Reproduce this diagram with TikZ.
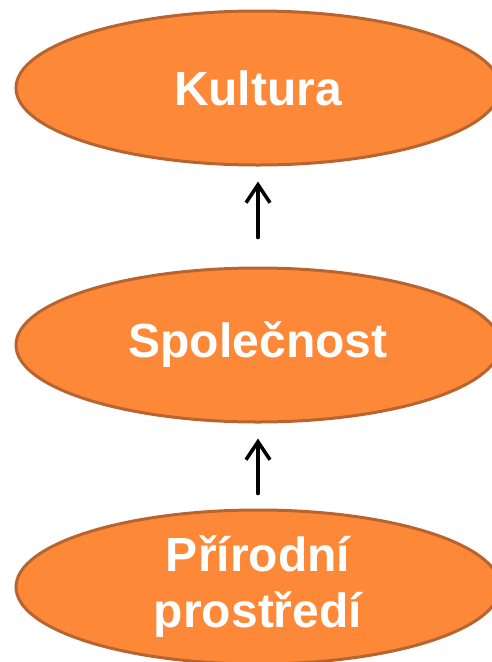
\documentclass[tikz,border=0pt]{standalone}
\usepackage{fontspec}
\setmainfont{Liberation Sans}
\usetikzlibrary{shapes.geometric,arrows.meta}
\definecolor{ovfill}{RGB}{253,137,56}
\definecolor{ovdraw}{RGB}{184,100,48}
\tikzset{
  oval/.style={ellipse, draw=ovdraw, line width=3pt, fill=ovfill, minimum width=484pt, minimum height=154pt, inner sep=0pt, text=white, font=\fontsize{48}{56}\selectfont\bfseries, align=center},
  arr/.style={line width=3.6pt, line cap=round, line join=round, -{Straight Barb[length=18pt,width=24pt,line width=3.6pt]}}
}
\begin{document}
\begin{tikzpicture}[x=1pt,y=-1pt]
\useasboundingbox (0,0) rectangle (492,662);
\clip (0,0) rectangle (492,662);
\node[oval] (kul) at (258,88) {Kultura};
\node[oval] (spo) at (258,345) {Společnost};
\node[oval] (pri) at (258,587) {\raisebox{-3pt}{Přírodní}\\\raisebox{-3pt}{prostředí}};
\draw[arr] ([yshift=29pt]spo.north) -- ([yshift=-15pt]kul.south);
\draw[arr] ([yshift=15pt]pri.north) -- ([yshift=-15pt]spo.south);
\end{tikzpicture}
\end{document}
